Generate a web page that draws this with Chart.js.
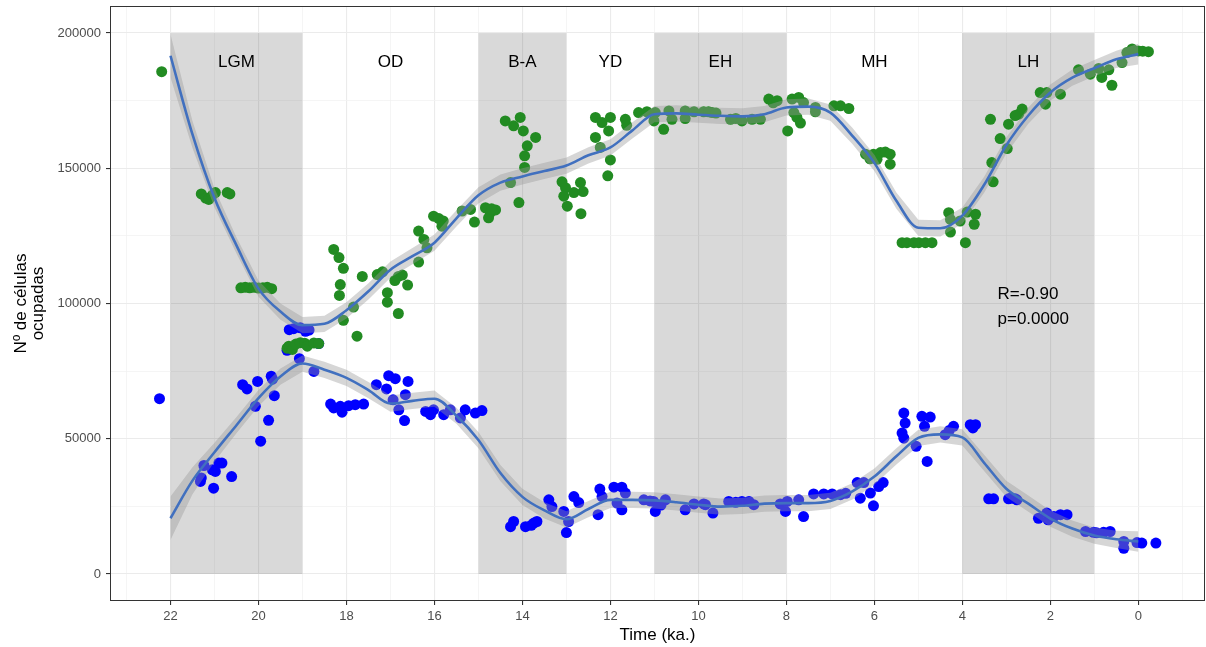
<!DOCTYPE html>
<html>
<head>
<meta charset="utf-8">
<script src="https://cdn.jsdelivr.net/npm/chart.js@4/dist/chart.umd.min.js"></script>
<style>
    html, body { margin: 0; padding: 0; background: #fff; }
</style>
</head>
<body>
<canvas id="chart" width="1206" height="647"></canvas>
<script>
// periods (ka.)
const periodNames = ['LGM', 'OD', 'B-A', 'YD', 'EH', 'MH', 'LH'];
const periodMid = [20.5, 17, 14, 12, 9.5, 6, 2.5];
const shadeFrom = [22, 15, 11, 4];
const shadeTo = [19, 13, 8, 1];
const shadeTop = 200000;
const periodLabelY = 189000;

const statsLines = ['R=-0.90', 'p=0.0000'];
const statsX = 3.2;
const statsY = [103500, 94000];

const xTickValues = [-1, 0, 1, 2, 3, 4, 5, 6, 7, 8, 9, 10, 11, 12, 13, 14, 15, 16, 17, 18, 19, 20, 21, 22, 23];
const xTickLabels = ['0', '2', '4', '6', '8', '10', '12', '14', '16', '18', '20', '22'];
const yTickValues = [0, 25000, 50000, 75000, 100000, 125000, 150000, 175000, 200000];
const yTickLabels = ['0', '50000', '100000', '150000', '200000'];

// green points
const greenTime = [22.2,
    21.3, 21.2, 21.13, 21.05, 20.98, 20.71, 20.65,
    20.4, 20.3, 20.2, 20.1, 20.0, 19.9, 19.8, 19.7,
    19.35, 19.31, 19.23, 19.15, 19.05, 18.95, 18.89, 18.74, 18.63,
    18.29, 18.17, 18.07, 18.14, 18.16, 18.07, 17.84, 17.76, 17.64, 17.3, 17.18, 17.07, 17.07,
    16.82, 16.73, 16.9, 16.61, 16.82, 16.36, 16.24, 16.17, 16.36, 16.02, 15.9, 15.8, 15.83,
    15.37, 15.18, 15.09,
    14.84, 14.73, 14.61, 14.77, 14.7, 14.39, 14.2, 14.05, 13.98, 13.7, 13.89, 13.95, 13.95, 14.27, 14.08,
    13.1, 13.02, 13.06, 12.98, 12.83, 12.68, 12.62, 12.67,
    12.34, 12.19, 12.0, 12.04, 12.34, 12.23, 12.0, 12.06, 11.66, 11.63,
    11.36, 11.17, 10.98, 11.01, 10.79, 10.67, 10.6, 10.3, 10.3, 10.1, 9.88, 9.69, 9.77, 9.6,
    9.27, 9.15, 9.01, 8.78, 8.59, 8.4, 8.3, 8.21, 7.97, 7.87, 7.72, 7.61, 7.83, 7.76, 7.68,
    7.34, 7.34, 6.92, 6.77, 6.58,
    6.2, 6.1, 6.02, 5.86, 5.75, 5.64, 5.64, 5.94,
    5.37, 5.26, 5.1, 4.99, 4.84, 4.69,
    4.31, 4.27, 4.27, 4.05, 3.89, 3.7, 3.73, 3.93,
    3.36, 3.14, 2.95, 3.33, 3.3, 2.98, 2.72, 2.64, 2.8,
    2.23, 2.08, 2.11, 1.77, 1.36, 1.09, 0.9, 0.83, 0.67, 0.6,
    0.37, 0.26, 0.14, 0.0, -0.1, -0.23];
const greenCells = [185700,
    140500, 139000, 138500, 140000, 141000, 141000, 140500,
    105800, 106000, 105800, 106000, 105700, 105800, 106000, 105500,
    83500, 84200, 83000, 85000, 85500, 85300, 84200, 85400, 85200,
    120000, 117000, 113000, 107000, 103000, 93800, 98700, 87900, 110000, 110700, 111700, 104000, 100500,
    110000, 110500, 108500, 106800, 96300, 126800, 123700, 120600, 115300, 132300, 131400, 130500, 128600,
    134200, 134800, 130100,
    135400, 133600, 134600, 131700, 135000, 167500, 165700, 168800, 163800, 161400, 158300, 154600, 150300, 144700, 137300,
    145000, 142800, 139700, 136000, 141000, 144700, 141400, 133200,
    168800, 166900, 168800, 163800, 161400, 157700, 153100, 147200, 168100, 165900,
    170600, 170900, 170600, 167500, 164400, 171200, 168100, 171200, 168400, 170900, 170900, 170600, 170900, 170400,
    168100, 168400, 167500, 168100, 168100, 175600, 174200, 175000, 163800, 175600, 176200, 174300, 170600, 168800, 166700,
    172500, 170900, 173100, 173100, 172100,
    155200, 153500, 155200, 155800, 156000, 155200, 151500, 153300,
    122500, 122500, 122500, 122500, 122500, 122500,
    133600, 131100, 126400, 130500, 133800, 133000, 129300, 122500,
    168100, 161000, 166300, 152100, 145000, 157300, 170000, 171900, 169500,
    178000, 178000, 173700, 177400, 186400, 184800, 186900, 183600, 186400, 180700,
    189100, 192800, 194100, 193400, 193300, 193100];

// blue points
const blueTime = [22.25,
    21.32, 21.3, 21.24, 21.05, 21.02, 20.98, 20.9, 20.83, 20.61,
    20.36, 20.26, 20.02, 20.07, 19.95, 19.77, 19.71, 19.68, 19.64,
    19.07, 18.74, 19.3, 19.2, 19.05, 18.93, 18.85, 19.35, 18.63,
    18.36, 18.29, 18.1, 18.14, 17.95, 17.8, 17.61,
    17.32, 17.09, 17.04, 16.89, 16.94, 16.81, 16.68, 16.66, 16.6,
    16.2, 16.09, 16.02, 15.79, 15.64, 15.41, 15.3, 15.07, 14.92,
    14.27, 14.2, 13.93, 13.8, 13.74, 13.67,
    13.4, 13.33, 13.06, 12.95, 13.0, 12.83, 12.72,
    12.24, 12.19, 12.28, 11.92, 11.74, 11.66, 11.85, 11.74,
    11.24, 11.1, 11.02, 10.75, 10.98, 10.85,
    10.3, 10.1, 9.88, 9.67, 9.84, 9.31, 9.15, 9.01, 8.74, 8.85,
    8.14, 8.02, 7.98, 7.72, 7.61,
    7.38, 7.15, 6.96, 6.77, 6.65,
    6.39, 6.24, 6.32, 6.09, 6.02, 5.9, 5.8,
    5.33, 5.3, 5.37, 5.33, 5.05, 4.92, 4.73, 4.86, 4.8, 4.39, 4.2, 4.3, 3.82, 3.7, 3.76,
    3.4, 3.29, 2.95, 2.8, 2.9, 2.76,
    2.27, 2.08, 1.92, 1.77, 1.62, 2.05,
    1.2, 1.02, 0.79, 0.64, 0.95,
    0.33, 0.33, 0.03, -0.08, -0.4];
const blueCells = [64800,
    34200, 35500, 40100, 38500, 31700, 37900, 41000, 41000, 36000,
    70000, 68400, 71200, 62000, 49100, 56800, 73100, 72000, 65900,
    79600, 74900, 90300, 90700, 91000, 89700, 90200, 82700, 85200,
    62800, 61400, 59800, 62000, 62200, 62600, 62800,
    70000, 68400, 73300, 72200, 64400, 60700, 56700, 66300, 71200,
    60100, 58900, 60700, 58900, 60700, 57700, 60700, 59500, 60400,
    17500, 19400, 17500, 18000, 18800, 19400,
    27400, 24900, 23100, 19400, 15300, 28600, 26400,
    31400, 28600, 21900, 32100, 32100, 29900, 26200, 23700,
    27400, 27000, 26800, 27400, 23100, 25500,
    23700, 25900, 25900, 22500, 25600, 26800, 26500, 26800, 25600, 26800,
    25900, 23100, 26800, 27400, 21200,
    29600, 29600, 29600, 29300, 29800,
    33800, 33800, 28000, 29900, 25200, 32300, 33800,
    59500, 55800, 52100, 50200, 47200, 58300, 58000, 54600, 41600, 51500, 54600, 53000, 55200, 55200, 54000,
    27800, 27800, 27800, 27800, 28000, 27400,
    20600, 22500, 21200, 21900, 21900, 20000,
    15700, 15400, 15400, 15700, 15200,
    12000, 9500, 11600, 11400, 11400];

// loess fits, with half width of the grey band
const smoothTime = [22, 21.5, 21, 20.5, 20, 19.5, 19, 18.5, 18, 17.5, 17, 16.5, 16, 15.5, 15, 14.5, 14, 13.5, 13, 12.5, 12,
    11.5, 11, 10.5, 10, 9.5, 9, 8.5, 8, 7.5, 7, 6.5, 6, 5.5, 5, 4.5, 4, 3.5, 3, 2.5, 2, 1.5, 1, 0.5, 0];
const greenSmooth = [191600, 162500, 139000, 121500, 105500, 97000, 92000, 92500, 97500, 104500, 112500, 117500, 122500,
    131500, 140000, 144700, 147000, 149000, 151000, 154800, 157700, 164000, 170000, 170300, 169800, 169400, 169200,
    170000, 172500, 172800, 170600, 162000, 152000, 138000, 128000, 127800, 132500, 144000, 158500, 169500, 178000,
    183500, 187000, 190300, 192200];
const greenBand = [8000, 5000, 3500, 3000, 3000, 3000, 3000, 3000, 3000, 3000, 3000, 3000, 3000, 3000, 3000, 3000, 3000,
    3000, 3000, 3000, 3000, 3000, 3000, 3000, 3000, 3000, 3000, 3000, 3000, 3000, 3000, 3000, 3000, 3000, 3000, 3000,
    3000, 3000, 3000, 3000, 3000, 3000, 3000, 3200, 3800];
const blueSmooth = [20600, 34500, 45000, 55000, 65000, 73000, 77800, 75500, 72500, 68000, 63000, 64000, 64800, 58500,
    49500, 37300, 28500, 23500, 20200, 24000, 27400, 27400, 27200, 26500, 25600, 24900, 25200, 26000, 26200, 26200,
    27000, 30500, 36000, 43500, 50300, 51600, 50500, 41000, 31500, 26000, 20500, 16800, 14200, 12800, 12000];
const blueBand = [8000, 5000, 3500, 3000, 3000, 3000, 3000, 3000, 3000, 3000, 3000, 3000, 3000, 3000, 3000, 3000, 3000,
    3000, 3000, 3000, 3000, 3000, 3000, 3000, 3000, 3000, 3000, 3000, 3000, 3000, 3000, 3000, 3000, 3000, 3000, 3000,
    3000, 3000, 3000, 3000, 3000, 3000, 3000, 3200, 3800];

const FONT = '"Liberation Sans", Arial, sans-serif';
const lineColor = '#4170BF';
const bandColor = 'rgba(153, 153, 153, 0.4)';

function points(xs, ys) {
    return xs.map((x, i) => ({ x: x, y: ys[i] }));
}

// lower order = drawn on top: line over band over points
function smoothDatasets(ys, band, lineOrder, bandOrder) {
    return [
        { data: smoothTime.map((x, i) => ({ x: x, y: ys[i] + band[i] })), showLine: true, pointRadius: 0,
          borderWidth: 0, backgroundColor: bandColor, fill: '+1', order: bandOrder },
        { data: smoothTime.map((x, i) => ({ x: x, y: ys[i] - band[i] })), showLine: true, pointRadius: 0,
          borderWidth: 0, fill: false, order: bandOrder },
        { data: points(smoothTime, ys), showLine: true, pointRadius: 0, borderColor: lineColor,
          borderWidth: 2.6, fill: false, cubicInterpolationMode: 'monotone', order: lineOrder }
    ];
}

const periodsPlugin = {
    id: 'periods',
    beforeDatasetsDraw(chart) {
        const { ctx, scales: { x, y } } = chart;
        ctx.save();
        ctx.fillStyle = 'rgba(0, 0, 0, 0.15)';
        shadeFrom.forEach((from, i) => {
            const x1 = x.getPixelForValue(from);
            const x2 = x.getPixelForValue(shadeTo[i]);
            const y1 = y.getPixelForValue(shadeTop);
            const y2 = y.getPixelForValue(0);
            ctx.fillRect(Math.min(x1, x2), y1, Math.abs(x2 - x1), y2 - y1);
        });
        ctx.fillStyle = '#000';
        ctx.font = '17px ' + FONT;
        ctx.textAlign = 'center';
        ctx.textBaseline = 'middle';
        periodNames.forEach((name, i) => {
            ctx.fillText(name, x.getPixelForValue(periodMid[i]), y.getPixelForValue(periodLabelY));
        });
        ctx.textAlign = 'left';
        statsLines.forEach((line, i) => {
            ctx.fillText(line, x.getPixelForValue(statsX), y.getPixelForValue(statsY[i]));
        });
        ctx.restore();
    },
    afterDraw(chart) {
        const { ctx, chartArea } = chart;
        ctx.save();
        ctx.strokeStyle = '#333333';
        ctx.lineWidth = 1;
        ctx.strokeRect(chartArea.left + 0.5, chartArea.top + 0.5,
            chartArea.right - chartArea.left - 1, chartArea.bottom - chartArea.top - 1);
        ctx.restore();
    }
};

new Chart(document.getElementById('chart'), {
    type: 'scatter',
    data: {
        datasets: [
            ...smoothDatasets(greenSmooth, greenBand, 0, 1),
            ...smoothDatasets(blueSmooth, blueBand, 2, 3),
            { data: points(greenTime, greenCells), backgroundColor: '#228B22', pointRadius: 5.5, borderWidth: 0, order: 4 },
            { data: points(blueTime, blueCells), backgroundColor: '#0000FF', pointRadius: 5.5, borderWidth: 0, order: 5 }
        ]
    },
    options: {
        responsive: false,
        animation: false,
        events: [],
        layout: { autoPadding: false, padding: { top: 6, right: 1, left: 0, bottom: 0 } },
        plugins: { legend: { display: false }, tooltip: { enabled: false } },
        scales: {
            x: {
                type: 'linear',
                reverse: true,
                min: -1.516,
                max: 23.375,
                afterBuildTicks: axis => { axis.ticks = xTickValues.map(v => ({ value: v })); },
                afterFit: scale => {
                    scale.height = 46;
                    scale.paddingLeft = 0;
                    scale.paddingRight = 0;
                },
                ticks: {
                    autoSkip: false,
                    maxRotation: 0,
                    padding: 4,
                    color: '#4D4D4D',
                    font: { family: FONT, size: 13 },
                    callback: v => xTickLabels.includes(String(v)) ? String(v) : ''
                },
                grid: {
                    color: c => c.tick && c.tick.value % 2 === 0 ? '#EBEBEB' : '#F3F3F3',
                    lineWidth: c => c.tick && c.tick.value % 2 === 0 ? 1.1 : 0.8,
                    tickColor: c => c.tick && c.tick.value % 2 === 0 ? '#333333' : 'rgba(0,0,0,0)',
                    tickLength: 4
                },
                border: { display: false },
                title: {
                    display: true,
                    text: 'Time (ka.)',
                    color: '#000',
                    font: { family: FONT, size: 17, lineHeight: 1 },
                    padding: { top: 0, bottom: 3.5 }
                }
            },
            y: {
                min: -10000,
                max: 210000,
                afterBuildTicks: axis => { axis.ticks = yTickValues.map(v => ({ value: v })); },
                afterFit: scale => {
                    scale.width = 110;
                    scale.paddingTop = 0;
                    scale.paddingBottom = 0;
                },
                ticks: {
                    padding: 5,
                    color: '#4D4D4D',
                    font: { family: FONT, size: 13 },
                    callback: v => yTickLabels.includes(String(v)) ? String(v) : ''
                },
                grid: {
                    color: c => c.tick && c.tick.value % 50000 === 0 ? '#EBEBEB' : '#F3F3F3',
                    lineWidth: c => c.tick && c.tick.value % 50000 === 0 ? 1.1 : 0.8,
                    tickColor: c => c.tick && c.tick.value % 50000 === 0 ? '#333333' : 'rgba(0,0,0,0)',
                    tickLength: 4
                },
                border: { display: false },
                title: {
                    display: true,
                    text: ['Nº de células', 'ocupadas'],
                    color: '#000',
                    font: { family: FONT, size: 17, lineHeight: 1 },
                    padding: { top: 12.5, bottom: 0 }
                }
            }
        }
    },
    plugins: [periodsPlugin]
});
</script>
</body>
</html>
